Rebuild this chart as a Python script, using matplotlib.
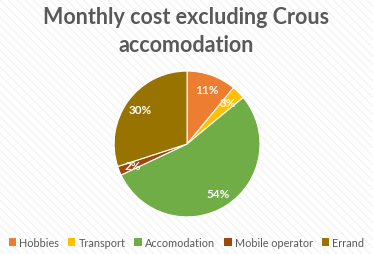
import matplotlib
matplotlib.use("Agg")
import matplotlib.pyplot as plt
from matplotlib.patches import Rectangle, Patch

categories = ["Hobbies", "Transport", "Accomodation", "Mobile operator", "Errand"]
values = [11, 3, 54, 2, 30]
colors = ["#ED7D31", "#FFC000", "#70AD47", "#9E480E", "#997300"]

plt.rcParams['font.family'] = ['Lato', 'DejaVu Sans']
plt.rcParams['hatch.linewidth'] = 0.6

fig = plt.figure(figsize=(3.73, 2.55), dpi=100)
fig.patch.set_facecolor("white")
bg = Rectangle((0, 0), 1, 1, transform=fig.transFigure, facecolor="#ffffff",
               edgecolor="#eeeeee", hatch="\\\\\\\\", linewidth=0, zorder=-10)
fig.patches.append(bg)

ax = fig.add_axes([0.306, 0.145, 0.391, 0.573])
ax.set_facecolor("none")
wedges, texts, autotexts = ax.pie(values, colors=colors, startangle=90, counterclock=False,
                                  autopct=lambda p: f"{p:.0f}%", pctdistance=0.8,
                                  wedgeprops=dict(edgecolor="white", linewidth=0.8),
                                  textprops=dict(color="white", fontsize=8.5, fontweight="bold"))
ax.set_xlim(-1, 1)
ax.set_ylim(-1, 1)
ax.set_aspect("equal")
ax.axis("off")

fig.text(0.5, 0.93, "Monthly cost excluding Crous", ha="center", va="center",
         fontsize=15.5, fontweight="bold", color="#595959")
fig.text(0.5, 0.82, "accomodation", ha="center", va="center",
         fontsize=15.5, fontweight="bold", color="#595959")

handles = [Patch(facecolor=c, edgecolor="none") for c in colors]
fig.legend(handles, categories, loc="center", bbox_to_anchor=(0.5, 0.047), ncol=5,
           frameon=False, fontsize=7.8, handlelength=0.7, handleheight=0.7,
           handletextpad=0.3, columnspacing=0.8, labelcolor="#595959")

fig.savefig("out.png", dpi=100)
